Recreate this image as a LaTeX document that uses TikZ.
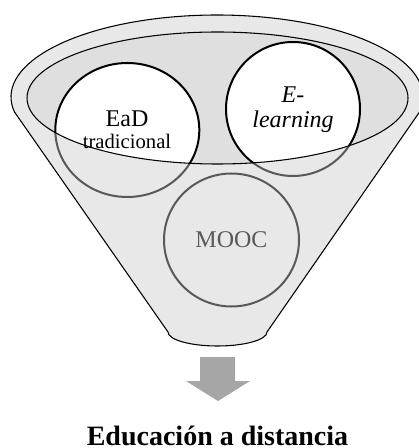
\documentclass[tikz,border=0pt]{standalone}
\usepackage{fontspec}
\newfontfamily\tnr{Liberation Serif}
\newfontfamily\tnri{Liberation Serif Italic}
\begin{document}
\begin{tikzpicture}[x=0.75pt,y=-0.75pt]
\definecolor{innerg}{gray}{0.875}
\definecolor{bodyg}{gray}{0.91}
\definecolor{dimg}{gray}{0.35}
\definecolor{arrowg}{HTML}{A6A6A6}
\useasboundingbox (0,0) rectangle (418,448);
% funnel body
\fill[bodyg]
  (217,97) ++(169.5:206 and 82) arc[start angle=169.5, end angle=370.5, x radius=206, y radius=82]
  -- (267,332) arc[start angle=0, end angle=180, x radius=49.5, y radius=14] -- cycle;
% circles as seen through the funnel body
\draw[line width=1.5pt, dimg] (127.3,130) ellipse [x radius=72, y radius=67];
\draw[line width=1.5pt, dimg] (293,109) ellipse [x radius=67, y radius=67];
\draw[line width=1.5pt, dimg] (231.5,240) ellipse [x radius=67.5, y radius=66.5];
% funnel mouth: circles seen directly
\begin{scope}
  \clip (217.5,98) ellipse [x radius=190.5, y radius=66];
  \fill[innerg] (217.5,98) ellipse [x radius=190.5, y radius=66];
  \filldraw[line width=1.5pt, fill=white, draw=black] (127.3,130) ellipse [x radius=72, y radius=67];
  \filldraw[line width=1.5pt, fill=white, draw=black] (293,109) ellipse [x radius=67, y radius=67];
\end{scope}
% texts
\node[anchor=base, inner sep=0pt, font=\tnr\fontsize{18}{20}\selectfont] (eadt) at (127,126.7) {EaD};
\node[anchor=base, inner sep=0pt, font=\tnr\fontsize{15.5}{18}\selectfont] (tradt) at (127,149) {tradicional};
\node[anchor=base, inner sep=0pt, font=\tnri\fontsize{18}{20}\selectfont] (et) at (293,103) {E-};
\node[anchor=base, inner sep=0pt, font=\tnri\fontsize{18}{20}\selectfont] (lt) at (293,128) {learning};
\node[anchor=base, inner sep=0pt, font=\tnr\fontsize{18}{20}\selectfont, text=dimg] (mt) at (231.5,247.7) {MOOC};
% outlines
\draw[black, line width=0.8pt] (217.5,98) ellipse [x radius=190.5, y radius=66];
\draw[black, line width=0.8pt, line join=round]
  (217,97) ++(169.5:206 and 82) arc[start angle=169.5, end angle=370.5, x radius=206, y radius=82]
  -- (267,332) arc[start angle=0, end angle=180, x radius=49.5, y radius=14] -- cycle;
% arrow
\fill[arrowg] (200,357) -- (235,357) -- (235,381) -- (250,381) -- (218,401) -- (186,381) -- (200,381) -- cycle;
% result
\node[anchor=base, inner sep=0pt, font=\tnr\fontsize{21}{24}\selectfont\bfseries] (res) at (217.5,445) {Educación a distancia};
\end{tikzpicture}
\end{document}
